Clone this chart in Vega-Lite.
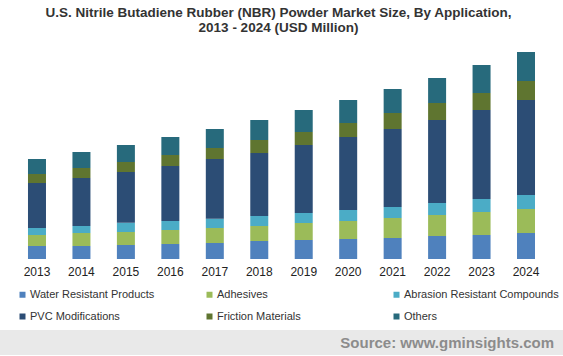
{
  "$schema": "https://vega.github.io/schema/vega-lite/v6.json",
  "padding": {"top": 5, "left": 0, "right": 0, "bottom": 0},
  "spacing": 53,
  "background": "white",
  "title": {
    "text": ["U.S. Nitrile Butadiene Rubber (NBR) Powder Market Size, By Application,", "2013 - 2024 (USD Million)"],
    "fontSize": 13.5,
    "font": "Liberation Sans",
    "fontWeight": "bold",
    "color": "#333333",
    "lineHeight": 15,
    "anchor": "middle",
    "dx": -3,
    "offset": 10
  },
  "config": {"view": {"stroke": null}, "font": "Liberation Sans"},
  "vconcat": [
    {
      "width": 563,
      "height": 215,
      "data": {
        "values": [
          {"year": "2013", "application": "Water Resistant Products", "rank": 1, "value": 13},
          {"year": "2013", "application": "Adhesives", "rank": 2, "value": 11},
          {"year": "2013", "application": "Abrasion Resistant Compounds", "rank": 3, "value": 7},
          {"year": "2013", "application": "PVC Modifications", "rank": 4, "value": 45},
          {"year": "2013", "application": "Friction Materials", "rank": 5, "value": 9},
          {"year": "2013", "application": "Others", "rank": 6, "value": 15},
          {"year": "2014", "application": "Water Resistant Products", "rank": 1, "value": 13},
          {"year": "2014", "application": "Adhesives", "rank": 2, "value": 13},
          {"year": "2014", "application": "Abrasion Resistant Compounds", "rank": 3, "value": 7},
          {"year": "2014", "application": "PVC Modifications", "rank": 4, "value": 48},
          {"year": "2014", "application": "Friction Materials", "rank": 5, "value": 10},
          {"year": "2014", "application": "Others", "rank": 6, "value": 16},
          {"year": "2015", "application": "Water Resistant Products", "rank": 1, "value": 14},
          {"year": "2015", "application": "Adhesives", "rank": 2, "value": 13},
          {"year": "2015", "application": "Abrasion Resistant Compounds", "rank": 3, "value": 9.3},
          {"year": "2015", "application": "PVC Modifications", "rank": 4, "value": 50.7},
          {"year": "2015", "application": "Friction Materials", "rank": 5, "value": 10},
          {"year": "2015", "application": "Others", "rank": 6, "value": 17},
          {"year": "2016", "application": "Water Resistant Products", "rank": 1, "value": 15},
          {"year": "2016", "application": "Adhesives", "rank": 2, "value": 14},
          {"year": "2016", "application": "Abrasion Resistant Compounds", "rank": 3, "value": 9},
          {"year": "2016", "application": "PVC Modifications", "rank": 4, "value": 55},
          {"year": "2016", "application": "Friction Materials", "rank": 5, "value": 11},
          {"year": "2016", "application": "Others", "rank": 6, "value": 18},
          {"year": "2017", "application": "Water Resistant Products", "rank": 1, "value": 16},
          {"year": "2017", "application": "Adhesives", "rank": 2, "value": 15},
          {"year": "2017", "application": "Abrasion Resistant Compounds", "rank": 3, "value": 9.3},
          {"year": "2017", "application": "PVC Modifications", "rank": 4, "value": 59.7},
          {"year": "2017", "application": "Friction Materials", "rank": 5, "value": 11},
          {"year": "2017", "application": "Others", "rank": 6, "value": 19},
          {"year": "2018", "application": "Water Resistant Products", "rank": 1, "value": 18},
          {"year": "2018", "application": "Adhesives", "rank": 2, "value": 15},
          {"year": "2018", "application": "Abrasion Resistant Compounds", "rank": 3, "value": 10},
          {"year": "2018", "application": "PVC Modifications", "rank": 4, "value": 63},
          {"year": "2018", "application": "Friction Materials", "rank": 5, "value": 13},
          {"year": "2018", "application": "Others", "rank": 6, "value": 20},
          {"year": "2019", "application": "Water Resistant Products", "rank": 1, "value": 19},
          {"year": "2019", "application": "Adhesives", "rank": 2, "value": 17},
          {"year": "2019", "application": "Abrasion Resistant Compounds", "rank": 3, "value": 10},
          {"year": "2019", "application": "PVC Modifications", "rank": 4, "value": 68},
          {"year": "2019", "application": "Friction Materials", "rank": 5, "value": 13},
          {"year": "2019", "application": "Others", "rank": 6, "value": 22},
          {"year": "2020", "application": "Water Resistant Products", "rank": 1, "value": 20},
          {"year": "2020", "application": "Adhesives", "rank": 2, "value": 18},
          {"year": "2020", "application": "Abrasion Resistant Compounds", "rank": 3, "value": 11},
          {"year": "2020", "application": "PVC Modifications", "rank": 4, "value": 73},
          {"year": "2020", "application": "Friction Materials", "rank": 5, "value": 14},
          {"year": "2020", "application": "Others", "rank": 6, "value": 23},
          {"year": "2021", "application": "Water Resistant Products", "rank": 1, "value": 21},
          {"year": "2021", "application": "Adhesives", "rank": 2, "value": 20},
          {"year": "2021", "application": "Abrasion Resistant Compounds", "rank": 3, "value": 11},
          {"year": "2021", "application": "PVC Modifications", "rank": 4, "value": 78},
          {"year": "2021", "application": "Friction Materials", "rank": 5, "value": 16},
          {"year": "2021", "application": "Others", "rank": 6, "value": 24},
          {"year": "2022", "application": "Water Resistant Products", "rank": 1, "value": 23},
          {"year": "2022", "application": "Adhesives", "rank": 2, "value": 21},
          {"year": "2022", "application": "Abrasion Resistant Compounds", "rank": 3, "value": 12},
          {"year": "2022", "application": "PVC Modifications", "rank": 4, "value": 83},
          {"year": "2022", "application": "Friction Materials", "rank": 5, "value": 17},
          {"year": "2022", "application": "Others", "rank": 6, "value": 25},
          {"year": "2023", "application": "Water Resistant Products", "rank": 1, "value": 24},
          {"year": "2023", "application": "Adhesives", "rank": 2, "value": 23},
          {"year": "2023", "application": "Abrasion Resistant Compounds", "rank": 3, "value": 13},
          {"year": "2023", "application": "PVC Modifications", "rank": 4, "value": 89},
          {"year": "2023", "application": "Friction Materials", "rank": 5, "value": 17},
          {"year": "2023", "application": "Others", "rank": 6, "value": 28},
          {"year": "2024", "application": "Water Resistant Products", "rank": 1, "value": 26},
          {"year": "2024", "application": "Adhesives", "rank": 2, "value": 24},
          {"year": "2024", "application": "Abrasion Resistant Compounds", "rank": 3, "value": 14},
          {"year": "2024", "application": "PVC Modifications", "rank": 4, "value": 95},
          {"year": "2024", "application": "Friction Materials", "rank": 5, "value": 19},
          {"year": "2024", "application": "Others", "rank": 6, "value": 29}
        ]
      },
      "mark": {"type": "bar", "width": 18},
      "encoding": {
        "x": {
          "field": "year",
          "type": "ordinal",
          "scale": {"paddingInner": 0.6, "paddingOuter": 0.632},
          "axis": {"title": null, "domain": false, "ticks": false, "labelAngle": 0, "labelFontSize": 12, "labelColor": "#222222", "labelPadding": 7, "labelFont": "Liberation Sans"}
        },
        "y": {
          "field": "value",
          "type": "quantitative",
          "stack": "zero",
          "scale": {"domain": [0, 215], "nice": false},
          "axis": null
        },
        "order": {"field": "rank", "type": "quantitative", "sort": "ascending"},
        "color": {
          "field": "application",
          "type": "nominal",
          "sort": ["Water Resistant Products", "Adhesives", "Abrasion Resistant Compounds", "PVC Modifications", "Friction Materials", "Others"],
          "scale": {
            "domain": ["Water Resistant Products", "Adhesives", "Abrasion Resistant Compounds", "PVC Modifications", "Friction Materials", "Others"],
            "range": ["#4f81bd", "#9bbb59", "#4bacc6", "#2c4d75", "#5f7530", "#276a7c"]
          },
          "legend": {
            "orient": "none",
            "direction": "horizontal",
            "legendX": 17,
            "legendY": 245,
            "title": null,
            "columns": 3,
            "gridAlign": "all",
            "columnPadding": 19,
            "rowPadding": 10,
            "padding": 0,
            "symbolType": "square",
            "symbolSize": 36,
            "symbolStrokeWidth": 0,
            "labelFontSize": 11,
            "labelColor": "#333333",
            "labelOffset": 2,
            "labelLimit": 250,
            "labelFont": "Liberation Sans"
          }
        }
      }
    },
    {
      "width": 563,
      "height": 25,
      "data": {"values": [{"source": "Source: www.gminsights.com"}]},
      "layer": [
        {
          "mark": {"type": "rect", "color": "#e9e9e9"},
          "encoding": {
            "x": {"datum": 0, "type": "quantitative", "scale": {"domain": [0, 1], "nice": false, "zero": false}, "axis": null},
            "x2": {"datum": 1},
            "y": {"datum": 0, "type": "quantitative", "scale": {"domain": [0, 1], "nice": false, "zero": false}, "axis": null},
            "y2": {"datum": 1}
          }
        },
        {
          "mark": {"type": "text", "align": "right", "baseline": "middle", "fontWeight": "bold", "fontSize": 15, "color": "#8c8c8c", "dx": -9, "font": "Liberation Sans"},
          "encoding": {
            "text": {"field": "source"},
            "x": {"datum": 1, "type": "quantitative"},
            "y": {"datum": 0.5, "type": "quantitative"}
          }
        }
      ]
    }
  ]
}
